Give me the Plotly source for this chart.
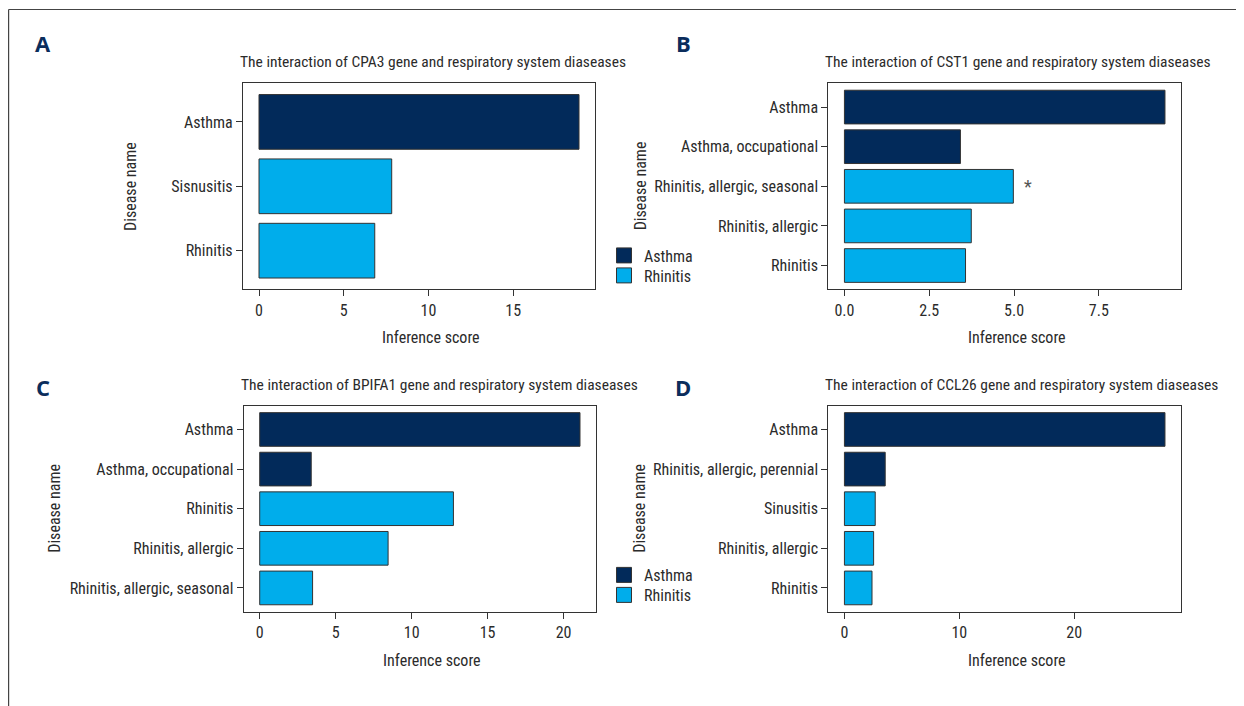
import plotly.graph_objects as go

# ---------------- data ----------------
A_diseases = ["Asthma", "Sisnusitis", "Rhinitis"]
A_scores = [18.88, 7.83, 6.83]
A_groups = ["Asthma", "Rhinitis", "Rhinitis"]

B_diseases = ["Asthma", "Asthma, occupational", "Rhinitis, allergic, seasonal",
              "Rhinitis, allergic", "Rhinitis"]
B_scores = [9.45, 3.42, 4.98, 3.74, 3.57]
B_groups = ["Asthma", "Asthma", "Rhinitis", "Rhinitis", "Rhinitis"]
B_marks = ["", "", "*", "", ""]

C_diseases = ["Asthma", "Asthma, occupational", "Rhinitis", "Rhinitis, allergic",
              "Rhinitis, allergic, seasonal"]
C_scores = [21.08, 3.39, 12.75, 8.45, 3.48]
C_groups = ["Asthma", "Asthma", "Rhinitis", "Rhinitis", "Rhinitis"]

D_diseases = ["Asthma", "Rhinitis, allergic, perennial", "Sinusitis",
              "Rhinitis, allergic", "Rhinitis"]
D_scores = [27.9, 3.55, 2.68, 2.54, 2.40]
D_groups = ["Asthma", "Asthma", "Rhinitis", "Rhinitis", "Rhinitis"]

genes = ["CPA3", "CST1", "BPIFA1", "CCL26"]
letters = ["A", "B", "C", "D"]
group_names = ["Asthma", "Rhinitis"]
group_colors = {"Asthma": "#022a5a", "Rhinitis": "#00adeb"}
x_dticks = [5, 2.5, 5, 10]
x_formats = ["d", ".1f", "d", "d"]

# ---------------- layout geometry (page pixels) ----------------
OX, OY = 8, 8            # page body margin in the browser
W, H = 1244 - OX, 706 - OY
FONT = "Liberation Sans Narrow, Roboto Condensed, DejaVu Sans Condensed, Liberation Sans"
TXT = "#2b2b2b"
EDGE = "#333333"

panels = [
    dict(d=A_diseases, s=A_scores, g=A_groups, box=(243, 595, 83.3, 289.3)),
    dict(d=B_diseases, s=B_scores, g=B_groups, box=(828.4, 1181, 83.3, 289.3)),
    dict(d=C_diseases, s=C_scores, g=C_groups, box=(243.7, 596, 405.7, 611.7)),
    dict(d=D_diseases, s=D_scores, g=D_groups, box=(828.4, 1181, 405.7, 611.7)),
]

def px(x):
    return (x - OX) / W

def py(y):
    return 1 - (y - OY) / H

fig = go.Figure()
annotations = []

for i, p in enumerate(panels):
    k = "" if i == 0 else str(i + 1)
    xa, ya = "x" + k, "y" + k
    l, r, t, b = p["box"]
    n = len(p["d"])
    mx = max(p["s"])
    fig.add_trace(go.Bar(
        x=p["s"], y=p["d"], orientation="h", xaxis=xa, yaxis=ya,
        width=0.85,
        marker=dict(color=[group_colors[g] for g in p["g"]],
                    line=dict(color=EDGE, width=1)),
        showlegend=False, hoverinfo="x+y",
    ))
    axis_common = dict(showline=True, mirror=True, linecolor=EDGE, linewidth=1.3,
                       ticks="outside", ticklen=6, tickcolor=EDGE, tickwidth=1,
                       showgrid=False, zeroline=False,
                       tickfont=dict(family=FONT, size=16, color=TXT))
    fig.layout["xaxis" + k] = dict(
        domain=[px(l), px(r)], anchor=ya,
        range=[-0.05 * mx, 1.05 * mx], dtick=x_dticks[i], tick0=0,
        tickformat=x_formats[i], **axis_common)
    fig.layout["yaxis" + k] = dict(
        domain=[py(b), py(t)], anchor=xa, type="category",
        categoryorder="array", categoryarray=p["d"],
        range=[n - 0.4, -0.6], **axis_common)

    # panel title
    annotations.append(dict(
        text="The interaction of %s gene and respiratory system diaseases" % genes[i],
        xref="paper", yref="paper", x=px(l - 5), y=py(t - 21),
        xanchor="left", yanchor="middle", showarrow=False,
        font=dict(family=FONT, size=15.5, color=TXT)))
    # x-axis title
    annotations.append(dict(
        text="Inference score", xref="paper", yref="paper",
        x=px((l + r) / 2 + 12), y=py(b + 48.5), xanchor="center", yanchor="middle",
        showarrow=False, font=dict(family=FONT, size=16, color=TXT)))
    # y-axis title
    ycx = 130.6 if i == 0 else (55 if i == 2 else 640)
    annotations.append(dict(
        text="Disease name", xref="paper", yref="paper", textangle=-90,
        x=px(ycx), y=py((t + b) / 2), xanchor="center", yanchor="middle",
        showarrow=False, font=dict(family=FONT, size=16, color=TXT)))
    # panel letter
    lx = 43 if i % 2 == 0 else 683
    ly = 43 if i < 2 else 386.7
    annotations.append(dict(
        text="<b>%s</b>" % letters[i], xref="paper", yref="paper",
        x=px(lx), y=py(ly), xanchor="center", yanchor="middle", showarrow=False,
        font=dict(family="Open Sans, DejaVu Sans", size=22, color="#0b2d5c")))

# significance mark on panel B
for d, s, m in zip(B_diseases, B_scores, B_marks):
    if m:
        annotations.append(dict(
            text=m, x=s + 0.42, y=d, xref="x2", yref="y2", showarrow=False,
            xanchor="center", yanchor="middle",
            font=dict(family=FONT, size=18, color="#555555")))

# legends: one legend per key so the spacing matches the reference
leg_common = dict(font=dict(family=FONT, size=16, color=TXT), bgcolor="rgba(0,0,0,0)",
                  xanchor="left", yanchor="middle", tracegroupgap=0,
                  itemclick=False, itemdoubleclick=False)
leg_rows = [(255.5, 275.5), (575.0, 595.0)]
li = 0
for row in leg_rows:
    for g, yc in zip(group_names, row):
        li += 1
        lname = "legend" if li == 1 else "legend%d" % li
        fig.add_trace(go.Scatter(
            x=[None], y=[None], mode="markers", name=g, legend=lname,
            marker=dict(symbol="square", size=15, color=group_colors[g],
                        line=dict(color=EDGE, width=1)),
            xaxis="x", yaxis="y", hoverinfo="skip"))
        fig.layout[lname] = dict(x=px(604), y=py(yc), **leg_common)

# outer frame lines
shapes = [
    dict(type="line", xref="paper", yref="paper", x0=px(8.6), x1=1, y0=py(9.5), y1=py(9.5),
         line=dict(color="#444444", width=1.2)),
    dict(type="line", xref="paper", yref="paper", x0=px(8.6), x1=px(8.6), y0=py(9.5), y1=0,
         line=dict(color="#444444", width=1.2)),
]

fig.update_layout(
    width=W, height=H, margin=dict(l=0, r=0, t=0, b=0),
    paper_bgcolor="white", plot_bgcolor="white",
    barmode="overlay", annotations=annotations, shapes=shapes,
    font=dict(family=FONT, color=TXT),
)

fig.write_html("out.html")
